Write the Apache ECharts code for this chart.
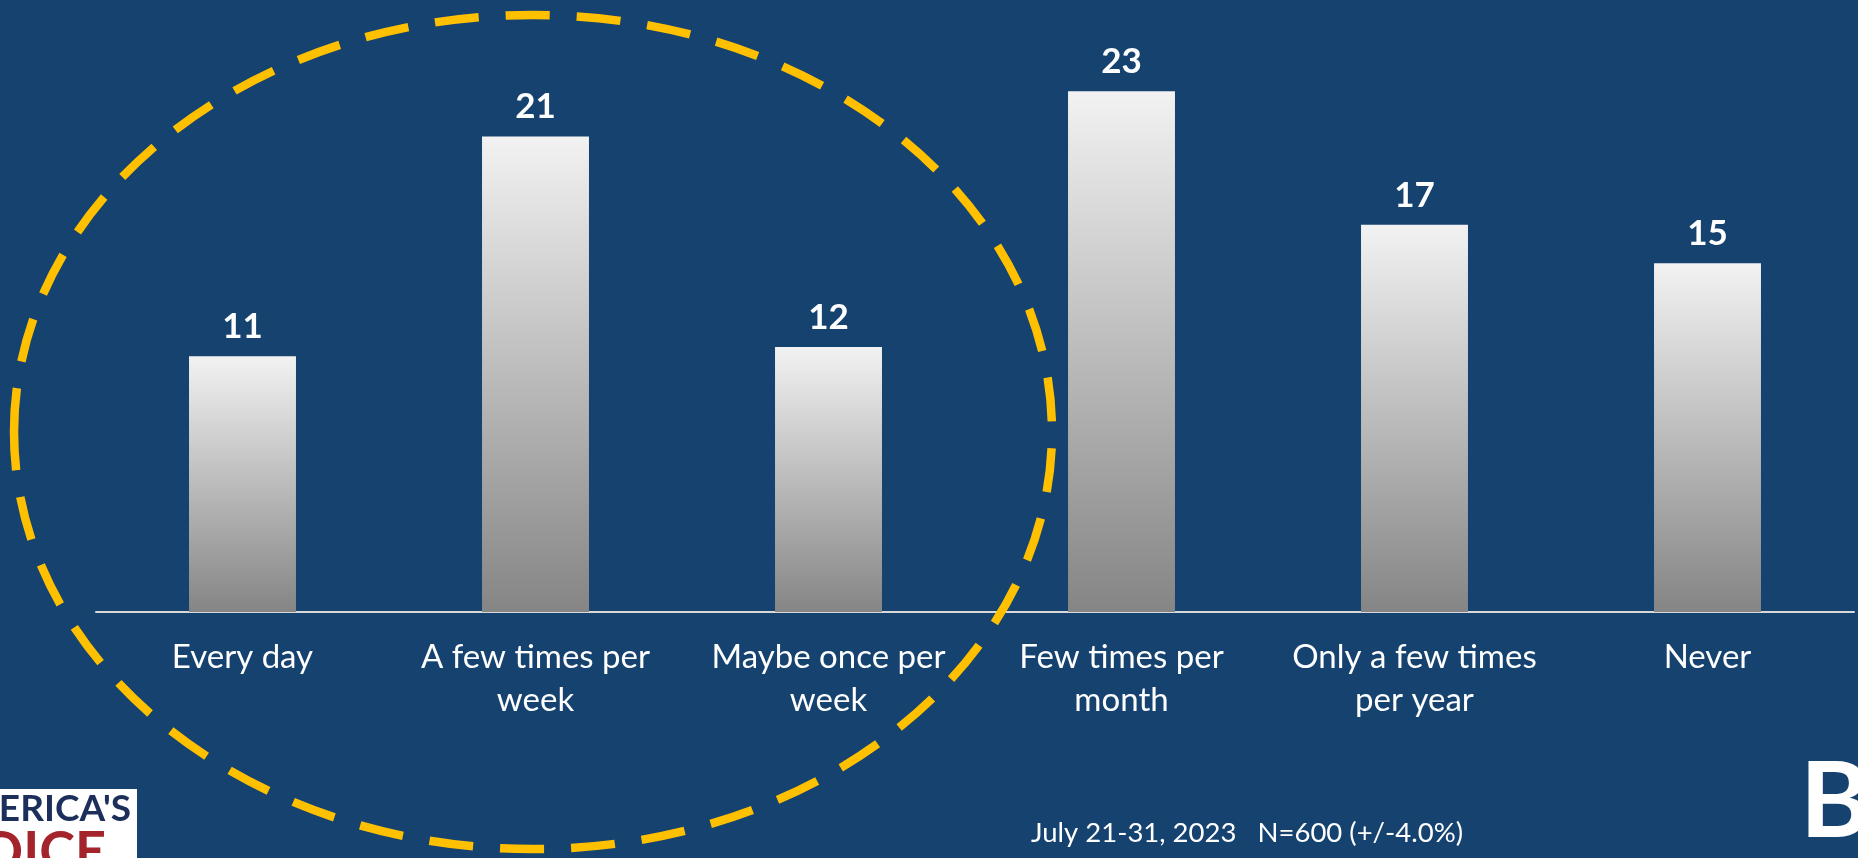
<!DOCTYPE html>
<html>
<head>
<meta charset="utf-8">
<script src="https://cdn.jsdelivr.net/npm/echarts@6/dist/echarts.min.js"></script>
<style>
html,body{margin:0;padding:0;background:#15426f;}
#c{width:1858px;height:858px;}
</style>
</head>
<body>
<div id="c"></div>
<script>
const categories = ['Every day', 'A few times per\nweek', 'Maybe once per\nweek', 'Few times per\nmonth', 'Only a few times\nper year', 'Never'];
const values = [11.3, 21.0, 11.7, 23.0, 17.1, 15.4];
const footerText = 'July 21-31, 2023   N=600 (+/-4.0%)';

const chart = echarts.init(document.getElementById('c'));
const FONT = 'Lato, "Open Sans", sans-serif';
chart.setOption({
  backgroundColor: '#15426f',
  animation: false,
  grid: {left: 96, right: 4, top: 46, bottom: 246, containLabel: false},
  xAxis: {
    type: 'category',
    data: categories,
    axisLine: {lineStyle: {color: '#d9d9d9', width: 2}},
    axisTick: {show: false},
    axisLabel: {color: '#ffffff', fontFamily: FONT, fontSize: 33, lineHeight: 43, margin: 24, interval: 0}
  },
  yAxis: {
    type: 'value', min: 0, max: 25,
    show: false, splitLine: {show: false}
  },
  series: [{
    type: 'bar',
    data: values,
    barWidth: '36.5%',
    itemStyle: {
      color: new echarts.graphic.LinearGradient(0, 0, 0, 1, [
        {offset: 0, color: '#f2f2f2'},
        {offset: 1, color: '#858585'}
      ])
    },
    label: {
      show: true, position: 'top', distance: 12,
      color: '#ffffff', fontFamily: FONT, fontWeight: 'bold', fontSize: 35,
      formatter: p => Math.round(p.value)
    }
  }],
  graphic: [
    {type: 'ellipse', z: 100, shape: {cx: 533, cy: 432, rx: 519, ry: 417},
     style: {fill: 'none', stroke: '#ffc000', lineWidth: 8.5, lineDash: [44, 27]}},
    {type: 'text', left: 1031, top: 819, z: 50,
     style: {text: footerText, fill: '#ffffff', font: '27.5px ' + FONT}},
    {type: 'rect', z: 40, shape: {x: 0, y: 789, width: 137, height: 80}, style: {fill: '#ffffff'}},
    {type: 'text', z: 41, x: 131, y: 791,
     style: {text: "AMERICA'S", fill: '#1b2f5a', font: 'bold 37px ' + FONT, align: 'right', verticalAlign: 'top'}},
    {type: 'text', z: 41, x: 106, y: 826,
     style: {text: 'VOICE', fill: '#a3242b', font: 'bold 54px ' + FONT, align: 'right', verticalAlign: 'top'}},
    {type: 'text', z: 41, x: 1800, y: 750,
     style: {text: 'B', fill: '#ffffff', font: 'bold 106px ' + FONT, align: 'left', verticalAlign: 'top'}}
  ]
});
</script>
</body>
</html>
